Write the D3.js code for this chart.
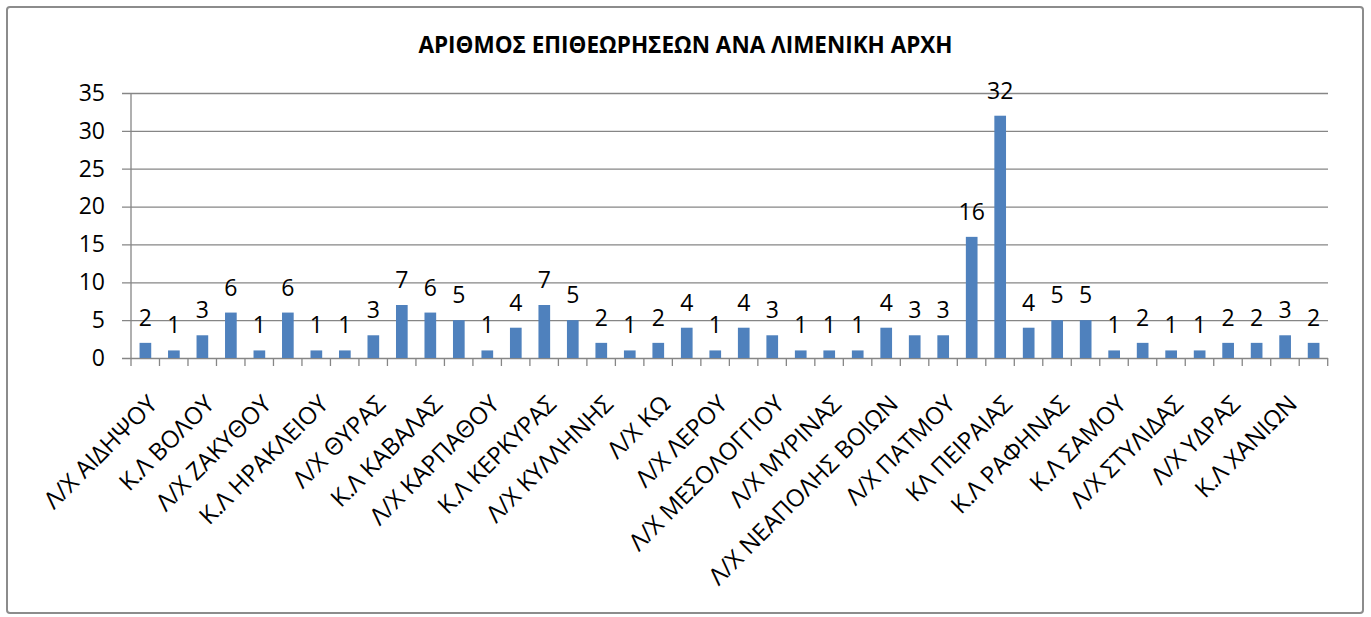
<!DOCTYPE html>
<html>
<head>
<meta charset="utf-8">
<script src="https://cdn.jsdelivr.net/npm/d3@7"></script>
<style>
  body { margin: 0; background: #fff; }
  svg { display: block; }
  text { font-family: "Open Sans", "Noto Sans", sans-serif; fill: #000; }
</style>
</head>
<body>
<div id="chart"></div>
<script>
// values per port authority (42 bars, every 2nd category is labelled in the source)
const values = [2, 1, 3, 6, 1, 6, 1, 1, 3, 7, 6, 5, 1, 4, 7, 5, 2, 1, 2, 4, 1,
                4, 3, 1, 1, 1, 4, 3, 3, 16, 32, 4, 5, 5, 1, 2, 1, 1, 2, 2, 3, 2];

// visible category labels; the others are not shown in the original
const labels = [
  "Λ/Χ ΑΙΔΗΨΟΥ", "", "Κ.Λ ΒΟΛΟΥ", "", "Λ/Χ ΖΑΚΥΘΟΥ", "", "Κ.Λ ΗΡΑΚΛΕΙΟΥ", "",
  "Λ/Χ ΘΥΡΑΣ", "", "Κ.Λ ΚΑΒΑΛΑΣ", "", "Λ/Χ ΚΑΡΠΑΘΟΥ", "", "Κ.Λ ΚΕΡΚΥΡΑΣ", "",
  "Λ/Χ ΚΥΛΛΗΝΗΣ", "", "Λ/Χ ΚΩ", "", "Λ/Χ ΛΕΡΟΥ", "", "Λ/Χ ΜΕΣΟΛΟΓΓΙΟΥ", "",
  "Λ/Χ ΜΥΡΙΝΑΣ", "", "Λ/Χ ΝΕΑΠΟΛΗΣ ΒΟΙΩΝ", "", "Λ/Χ ΠΑΤΜΟΥ", "", "ΚΛ ΠΕΙΡΑΙΑΣ", "",
  "Κ.Λ ΡΑΦΗΝΑΣ", "", "Κ.Λ ΣΑΜΟΥ", "", "Λ/Χ ΣΤΥΛΙΔΑΣ", "", "Λ/Χ ΥΔΡΑΣ", "",
  "Κ.Λ ΧΑΝΙΩΝ", ""
];

const yTicks = [0, 5, 10, 15, 20, 25, 30, 35];
const title = "ΑΡΙΘΜΟΣ ΕΠΙΘΕΩΡΗΣΕΩΝ ΑΝΑ ΛΙΜΕΝΙΚΗ ΑΡΧΗ";

const width = 1371, height = 617;
const margin = { top: 93, right: 43, bottom: 259, left: 131 };

const svg = d3.select("#chart")
  .append("svg")
  .attr("width", width)
  .attr("height", height);

// chart frame
svg.append("rect")
  .attr("x", 7).attr("y", 7)
  .attr("width", width - 15).attr("height", height - 11)
  .attr("rx", 3)
  .attr("fill", "#fff")
  .attr("stroke", "#8c8c8c")
  .attr("stroke-width", 2);

svg.append("text")
  .attr("x", width / 2)
  .attr("y", 53)
  .attr("text-anchor", "middle")
  .attr("font-size", "22.5px")
  .attr("font-weight", "bold")
  .text(title);

const x = d3.scaleBand()
  .domain(d3.range(values.length))
  .range([margin.left, width - margin.right])
  .paddingInner(0.59)
  .paddingOuter(0.3);

const y = d3.scaleLinear()
  .domain([0, 35])
  .range([height - margin.bottom, margin.top]);

// gridlines + y axis
const yAxis = svg.append("g")
  .attr("transform", `translate(${margin.left},0)`)
  .call(d3.axisLeft(y).tickValues(yTicks).tickSize(-(width - margin.right - margin.left)).tickPadding(26))
  .call(g => g.select(".domain").remove());

yAxis.selectAll(".tick line")
  .attr("x1", -9)
  .attr("stroke", "#868686")
  .attr("stroke-width", 1.3);
yAxis.selectAll(".tick text")
  .attr("font-size", "23px")
  .attr("font-family", "'Open Sans', sans-serif")
  .attr("fill", "#000");

svg.append("line")
  .attr("x1", margin.left).attr("x2", margin.left)
  .attr("y1", y(35)).attr("y2", y(0))
  .attr("stroke", "#868686")
  .attr("stroke-width", 1.3);

// category tick marks at band boundaries
const step = x.step();
const x0 = margin.left;
svg.append("g")
  .selectAll("line")
  .data(d3.range(values.length + 1))
  .join("line")
  .attr("x1", d => x0 + d * step)
  .attr("x2", d => x0 + d * step)
  .attr("y1", y(0))
  .attr("y2", y(0) + 8)
  .attr("stroke", "#868686")
  .attr("stroke-width", 1.3);

// bars
svg.append("g")
  .selectAll("rect")
  .data(values)
  .join("rect")
  .attr("x", (d, i) => x(i))
  .attr("y", d => y(d))
  .attr("width", x.bandwidth())
  .attr("height", d => y(0) - y(d))
  .attr("fill", "#4f81bd");

// value labels
svg.append("g")
  .selectAll("text")
  .data(values)
  .join("text")
  .attr("x", (d, i) => x(i) + x.bandwidth() / 2)
  .attr("y", d => y(d) - 17)
  .attr("text-anchor", "middle")
  .attr("font-size", "23px")
  .text(d => d);

// rotated category labels
svg.append("g")
  .selectAll("text")
  .data(labels)
  .join("text")
  .attr("transform", (d, i) => `translate(${x0 + (i + 0.5) * step + 1},393) rotate(-45)`)
  .attr("text-anchor", "end")
  .attr("dy", "0.74em")
  .attr("font-size", "24px")
  .text(d => d);
</script>
</body>
</html>
